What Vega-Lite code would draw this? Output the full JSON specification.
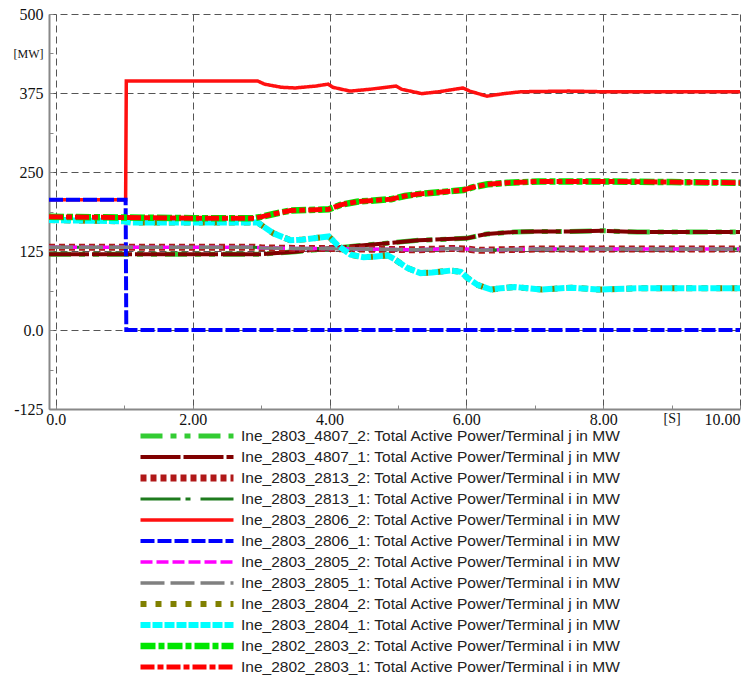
{
  "$schema": "https://vega.github.io/schema/vega-lite/v6.json",
  "width": 691,
  "height": 395,
  "autosize": {"type": "none"},
  "padding": {"left": 49, "top": 14, "right": 4, "bottom": 273},
  "background": "white",
  "config": {"view": {"stroke": null}, "font": "Liberation Sans"},
  "datasets": {
    "names": [
      {"s": "2803_4807_2", "name": "Ine_2803_4807_2: Total Active Power/Terminal j in MW"},
      {"s": "2803_4807_1", "name": "Ine_2803_4807_1: Total Active Power/Terminal j in MW"},
      {"s": "2803_2813_2", "name": "Ine_2803_2813_2: Total Active Power/Terminal i in MW"},
      {"s": "2803_2813_1", "name": "Ine_2803_2813_1: Total Active Power/Terminal i in MW"},
      {"s": "2803_2806_2", "name": "Ine_2803_2806_2: Total Active Power/Terminal i in MW"},
      {"s": "2803_2806_1", "name": "Ine_2803_2806_1: Total Active Power/Terminal i in MW"},
      {"s": "2803_2805_2", "name": "Ine_2803_2805_2: Total Active Power/Terminal i in MW"},
      {"s": "2803_2805_1", "name": "Ine_2803_2805_1: Total Active Power/Terminal i in MW"},
      {"s": "2803_2804_2", "name": "Ine_2803_2804_2: Total Active Power/Terminal j in MW"},
      {"s": "2803_2804_1", "name": "Ine_2803_2804_1: Total Active Power/Terminal j in MW"},
      {"s": "2802_2803_2", "name": "Ine_2802_2803_2: Total Active Power/Terminal i in MW"},
      {"s": "2802_2803_1", "name": "Ine_2802_2803_1: Total Active Power/Terminal i in MW"}
    ],
    "series": [
      {"s": "2803_4807_2", "t": -0.1, "v": 120}, {"s": "2803_4807_2", "t": 2.9, "v": 120}, {"s": "2803_4807_2", "t": 3.0, "v": 120}, {"s": "2803_4807_2", "t": 3.5, "v": 124}, {"s": "2803_4807_2", "t": 4.0, "v": 129}, {"s": "2803_4807_2", "t": 4.5, "v": 134}, {"s": "2803_4807_2", "t": 4.8, "v": 137}, {"s": "2803_4807_2", "t": 5.3, "v": 142}, {"s": "2803_4807_2", "t": 6.0, "v": 145}, {"s": "2803_4807_2", "t": 6.3, "v": 152}, {"s": "2803_4807_2", "t": 6.7, "v": 155}, {"s": "2803_4807_2", "t": 7.05, "v": 156}, {"s": "2803_4807_2", "t": 7.5, "v": 156}, {"s": "2803_4807_2", "t": 8.0, "v": 157}, {"s": "2803_4807_2", "t": 8.5, "v": 155}, {"s": "2803_4807_2", "t": 10, "v": 155},
      {"s": "2803_4807_1", "t": -0.1, "v": 120}, {"s": "2803_4807_1", "t": 2.9, "v": 120}, {"s": "2803_4807_1", "t": 3.0, "v": 120}, {"s": "2803_4807_1", "t": 3.5, "v": 124}, {"s": "2803_4807_1", "t": 4.0, "v": 129}, {"s": "2803_4807_1", "t": 4.5, "v": 134}, {"s": "2803_4807_1", "t": 4.8, "v": 137}, {"s": "2803_4807_1", "t": 5.3, "v": 142}, {"s": "2803_4807_1", "t": 6.0, "v": 145}, {"s": "2803_4807_1", "t": 6.3, "v": 152}, {"s": "2803_4807_1", "t": 6.7, "v": 155}, {"s": "2803_4807_1", "t": 7.05, "v": 156}, {"s": "2803_4807_1", "t": 7.5, "v": 156}, {"s": "2803_4807_1", "t": 8.0, "v": 157}, {"s": "2803_4807_1", "t": 8.5, "v": 155}, {"s": "2803_4807_1", "t": 10, "v": 155},
      {"s": "2803_2813_2", "t": -0.1, "v": 131}, {"s": "2803_2813_2", "t": 2.9, "v": 131}, {"s": "2803_2813_2", "t": 3.0, "v": 130}, {"s": "2803_2813_2", "t": 3.5, "v": 129}, {"s": "2803_2813_2", "t": 4.0, "v": 129}, {"s": "2803_2813_2", "t": 4.5, "v": 128}, {"s": "2803_2813_2", "t": 5.3, "v": 127}, {"s": "2803_2813_2", "t": 5.8, "v": 129}, {"s": "2803_2813_2", "t": 6.0, "v": 128}, {"s": "2803_2813_2", "t": 6.2, "v": 126}, {"s": "2803_2813_2", "t": 6.5, "v": 127}, {"s": "2803_2813_2", "t": 7.0, "v": 128}, {"s": "2803_2813_2", "t": 10, "v": 128},
      {"s": "2803_2813_1", "t": -0.1, "v": 131}, {"s": "2803_2813_1", "t": 2.9, "v": 131}, {"s": "2803_2813_1", "t": 3.0, "v": 130}, {"s": "2803_2813_1", "t": 3.5, "v": 129}, {"s": "2803_2813_1", "t": 4.0, "v": 129}, {"s": "2803_2813_1", "t": 4.5, "v": 128}, {"s": "2803_2813_1", "t": 5.3, "v": 127}, {"s": "2803_2813_1", "t": 5.8, "v": 129}, {"s": "2803_2813_1", "t": 6.0, "v": 128}, {"s": "2803_2813_1", "t": 6.2, "v": 126}, {"s": "2803_2813_1", "t": 6.5, "v": 127}, {"s": "2803_2813_1", "t": 7.0, "v": 128}, {"s": "2803_2813_1", "t": 10, "v": 128},
      {"s": "2803_2806_2", "t": -0.1, "v": 206}, {"s": "2803_2806_2", "t": 1.02, "v": 206}, {"s": "2803_2806_2", "t": 1.03, "v": 394}, {"s": "2803_2806_2", "t": 2.95, "v": 394}, {"s": "2803_2806_2", "t": 3.05, "v": 389}, {"s": "2803_2806_2", "t": 3.3, "v": 384}, {"s": "2803_2806_2", "t": 3.5, "v": 383}, {"s": "2803_2806_2", "t": 3.8, "v": 386}, {"s": "2803_2806_2", "t": 3.98, "v": 389}, {"s": "2803_2806_2", "t": 4.05, "v": 384}, {"s": "2803_2806_2", "t": 4.3, "v": 378}, {"s": "2803_2806_2", "t": 4.6, "v": 381}, {"s": "2803_2806_2", "t": 4.97, "v": 386}, {"s": "2803_2806_2", "t": 5.05, "v": 381}, {"s": "2803_2806_2", "t": 5.35, "v": 374}, {"s": "2803_2806_2", "t": 5.6, "v": 377}, {"s": "2803_2806_2", "t": 5.95, "v": 383}, {"s": "2803_2806_2", "t": 6.05, "v": 378}, {"s": "2803_2806_2", "t": 6.3, "v": 370}, {"s": "2803_2806_2", "t": 6.55, "v": 374}, {"s": "2803_2806_2", "t": 6.8, "v": 377}, {"s": "2803_2806_2", "t": 7.5, "v": 378}, {"s": "2803_2806_2", "t": 8.0, "v": 377}, {"s": "2803_2806_2", "t": 10, "v": 377},
      {"s": "2803_2806_1", "t": -0.1, "v": 206}, {"s": "2803_2806_1", "t": 1.02, "v": 206}, {"s": "2803_2806_1", "t": 1.03, "v": 0}, {"s": "2803_2806_1", "t": 10, "v": 0},
      {"s": "2803_2805_2", "t": -0.1, "v": 131}, {"s": "2803_2805_2", "t": 2.9, "v": 131}, {"s": "2803_2805_2", "t": 3.0, "v": 130}, {"s": "2803_2805_2", "t": 3.5, "v": 129}, {"s": "2803_2805_2", "t": 4.0, "v": 129}, {"s": "2803_2805_2", "t": 4.5, "v": 128}, {"s": "2803_2805_2", "t": 5.3, "v": 127}, {"s": "2803_2805_2", "t": 5.8, "v": 129}, {"s": "2803_2805_2", "t": 6.0, "v": 128}, {"s": "2803_2805_2", "t": 6.2, "v": 126}, {"s": "2803_2805_2", "t": 6.5, "v": 127}, {"s": "2803_2805_2", "t": 7.0, "v": 128}, {"s": "2803_2805_2", "t": 10, "v": 128},
      {"s": "2803_2805_1", "t": -0.1, "v": 131}, {"s": "2803_2805_1", "t": 2.9, "v": 131}, {"s": "2803_2805_1", "t": 3.0, "v": 130}, {"s": "2803_2805_1", "t": 3.5, "v": 129}, {"s": "2803_2805_1", "t": 4.0, "v": 129}, {"s": "2803_2805_1", "t": 4.5, "v": 128}, {"s": "2803_2805_1", "t": 5.3, "v": 127}, {"s": "2803_2805_1", "t": 5.8, "v": 129}, {"s": "2803_2805_1", "t": 6.0, "v": 128}, {"s": "2803_2805_1", "t": 6.2, "v": 126}, {"s": "2803_2805_1", "t": 6.5, "v": 127}, {"s": "2803_2805_1", "t": 7.0, "v": 128}, {"s": "2803_2805_1", "t": 10, "v": 128},
      {"s": "2803_2804_2", "t": -0.1, "v": 174}, {"s": "2803_2804_2", "t": 1.0, "v": 172}, {"s": "2803_2804_2", "t": 1.1, "v": 170}, {"s": "2803_2804_2", "t": 2.95, "v": 170}, {"s": "2803_2804_2", "t": 3.18, "v": 153}, {"s": "2803_2804_2", "t": 3.43, "v": 142}, {"s": "2803_2804_2", "t": 3.6, "v": 143}, {"s": "2803_2804_2", "t": 3.83, "v": 146}, {"s": "2803_2804_2", "t": 3.99, "v": 148}, {"s": "2803_2804_2", "t": 4.12, "v": 134}, {"s": "2803_2804_2", "t": 4.31, "v": 119}, {"s": "2803_2804_2", "t": 4.5, "v": 115}, {"s": "2803_2804_2", "t": 4.65, "v": 116}, {"s": "2803_2804_2", "t": 4.85, "v": 118}, {"s": "2803_2804_2", "t": 4.95, "v": 112}, {"s": "2803_2804_2", "t": 5.14, "v": 98}, {"s": "2803_2804_2", "t": 5.33, "v": 90}, {"s": "2803_2804_2", "t": 5.5, "v": 91}, {"s": "2803_2804_2", "t": 5.77, "v": 94}, {"s": "2803_2804_2", "t": 5.92, "v": 92}, {"s": "2803_2804_2", "t": 6.02, "v": 82}, {"s": "2803_2804_2", "t": 6.17, "v": 71}, {"s": "2803_2804_2", "t": 6.36, "v": 64}, {"s": "2803_2804_2", "t": 6.5, "v": 66}, {"s": "2803_2804_2", "t": 6.71, "v": 68}, {"s": "2803_2804_2", "t": 6.9, "v": 66}, {"s": "2803_2804_2", "t": 7.1, "v": 64}, {"s": "2803_2804_2", "t": 7.54, "v": 67}, {"s": "2803_2804_2", "t": 7.93, "v": 64}, {"s": "2803_2804_2", "t": 8.5, "v": 66}, {"s": "2803_2804_2", "t": 10, "v": 66},
      {"s": "2803_2804_1", "t": -0.1, "v": 174}, {"s": "2803_2804_1", "t": 1.0, "v": 172}, {"s": "2803_2804_1", "t": 1.1, "v": 170}, {"s": "2803_2804_1", "t": 2.95, "v": 170}, {"s": "2803_2804_1", "t": 3.18, "v": 153}, {"s": "2803_2804_1", "t": 3.43, "v": 142}, {"s": "2803_2804_1", "t": 3.6, "v": 143}, {"s": "2803_2804_1", "t": 3.83, "v": 146}, {"s": "2803_2804_1", "t": 3.99, "v": 148}, {"s": "2803_2804_1", "t": 4.12, "v": 134}, {"s": "2803_2804_1", "t": 4.31, "v": 119}, {"s": "2803_2804_1", "t": 4.5, "v": 115}, {"s": "2803_2804_1", "t": 4.65, "v": 116}, {"s": "2803_2804_1", "t": 4.85, "v": 118}, {"s": "2803_2804_1", "t": 4.95, "v": 112}, {"s": "2803_2804_1", "t": 5.14, "v": 98}, {"s": "2803_2804_1", "t": 5.33, "v": 90}, {"s": "2803_2804_1", "t": 5.5, "v": 91}, {"s": "2803_2804_1", "t": 5.77, "v": 94}, {"s": "2803_2804_1", "t": 5.92, "v": 92}, {"s": "2803_2804_1", "t": 6.02, "v": 82}, {"s": "2803_2804_1", "t": 6.17, "v": 71}, {"s": "2803_2804_1", "t": 6.36, "v": 64}, {"s": "2803_2804_1", "t": 6.5, "v": 66}, {"s": "2803_2804_1", "t": 6.71, "v": 68}, {"s": "2803_2804_1", "t": 6.9, "v": 66}, {"s": "2803_2804_1", "t": 7.1, "v": 64}, {"s": "2803_2804_1", "t": 7.54, "v": 67}, {"s": "2803_2804_1", "t": 7.93, "v": 64}, {"s": "2803_2804_1", "t": 8.5, "v": 66}, {"s": "2803_2804_1", "t": 10, "v": 66},
      {"s": "2802_2803_2", "t": -0.1, "v": 179}, {"s": "2802_2803_2", "t": 1.0, "v": 178}, {"s": "2802_2803_2", "t": 2.0, "v": 177}, {"s": "2802_2803_2", "t": 2.9, "v": 177}, {"s": "2802_2803_2", "t": 3.0, "v": 179}, {"s": "2802_2803_2", "t": 3.2, "v": 184}, {"s": "2802_2803_2", "t": 3.43, "v": 189}, {"s": "2802_2803_2", "t": 3.7, "v": 190}, {"s": "2802_2803_2", "t": 3.99, "v": 191}, {"s": "2802_2803_2", "t": 4.16, "v": 198}, {"s": "2802_2803_2", "t": 4.4, "v": 203}, {"s": "2802_2803_2", "t": 4.65, "v": 205}, {"s": "2802_2803_2", "t": 4.9, "v": 207}, {"s": "2802_2803_2", "t": 5.1, "v": 212}, {"s": "2802_2803_2", "t": 5.29, "v": 215}, {"s": "2802_2803_2", "t": 5.6, "v": 218}, {"s": "2802_2803_2", "t": 5.96, "v": 221.5}, {"s": "2802_2803_2", "t": 6.1, "v": 226}, {"s": "2802_2803_2", "t": 6.31, "v": 230.5}, {"s": "2802_2803_2", "t": 6.6, "v": 233}, {"s": "2802_2803_2", "t": 7.05, "v": 235}, {"s": "2802_2803_2", "t": 8.0, "v": 235}, {"s": "2802_2803_2", "t": 9.0, "v": 234}, {"s": "2802_2803_2", "t": 10, "v": 233},
      {"s": "2802_2803_1", "t": -0.1, "v": 179}, {"s": "2802_2803_1", "t": 1.0, "v": 178}, {"s": "2802_2803_1", "t": 2.0, "v": 177}, {"s": "2802_2803_1", "t": 2.9, "v": 177}, {"s": "2802_2803_1", "t": 3.0, "v": 179}, {"s": "2802_2803_1", "t": 3.2, "v": 184}, {"s": "2802_2803_1", "t": 3.43, "v": 189}, {"s": "2802_2803_1", "t": 3.7, "v": 190}, {"s": "2802_2803_1", "t": 3.99, "v": 191}, {"s": "2802_2803_1", "t": 4.16, "v": 198}, {"s": "2802_2803_1", "t": 4.4, "v": 203}, {"s": "2802_2803_1", "t": 4.65, "v": 205}, {"s": "2802_2803_1", "t": 4.9, "v": 207}, {"s": "2802_2803_1", "t": 5.1, "v": 212}, {"s": "2802_2803_1", "t": 5.29, "v": 215}, {"s": "2802_2803_1", "t": 5.6, "v": 218}, {"s": "2802_2803_1", "t": 5.96, "v": 221.5}, {"s": "2802_2803_1", "t": 6.1, "v": 226}, {"s": "2802_2803_1", "t": 6.31, "v": 230.5}, {"s": "2802_2803_1", "t": 6.6, "v": 233}, {"s": "2802_2803_1", "t": 7.05, "v": 235}, {"s": "2802_2803_1", "t": 8.0, "v": 235}, {"s": "2802_2803_1", "t": 9.0, "v": 234}, {"s": "2802_2803_1", "t": 10, "v": 233}
    ]
  },
  "data": {"name": "series"},
  "transform": [
    {"lookup": "s", "from": {"data": {"name": "names"}, "key": "s", "fields": ["name"]}}
  ],
  "mark": {"type": "line", "strokeCap": "butt", "strokeJoin": "miter", "clip": true},
  "encoding": {
    "x": {
      "field": "t", "type": "quantitative",
      "scale": {"domain": [-0.1, 10], "nice": false, "zero": false},
      "axis": {
        "title": null,
        "values": [0, 1, 2, 3, 4, 5, 6, 7, 8, 9, 10],
        "labelExpr": "datum.value == 9 ? '[S]' : (datum.value % 2 == 0 ? (datum.value == 0 ? '0.0' : format(datum.value, '.2f')) : '')",
        "labelFont": "Liberation Serif",
        "labelFontSize": {"condition": {"test": "datum.value == 9", "value": 14}, "value": 16},
        "labelColor": "#111111",
        "labelOverlap": false,
        "labelFlush": true,
        "labelPadding": 6,
        "grid": true,
        "gridDash": [7, 4],
        "gridColor": "#555555",
        "gridWidth": 1,
        "gridOpacity": {"condition": {"test": "datum.value % 2 != 0", "value": 0}, "value": 1},
        "domainColor": "#888888",
        "domainWidth": 2,
        "tickColor": "#888888",
        "tickSize": -4,
        "tickWidth": 1
      }
    },
    "y": {
      "field": "v", "type": "quantitative",
      "scale": {"domain": [-125, 500], "nice": false, "zero": false},
      "axis": {
        "title": null,
        "values": [-125, -62.5, 0, 62.5, 125, 187.5, 250, 312.5, 375, 437.5, 500],
        "labelExpr": "datum.value == 437.5 ? '[MW]' : (datum.value % 125 == 0 ? (datum.value == 0 ? '0.0' : datum.value + '') : '')",
        "labelFont": "Liberation Serif",
        "labelFontSize": {"condition": {"test": "datum.value == 437.5", "value": 12}, "value": 16},
        "labelColor": "#111111",
        "labelOverlap": false,
        "labelFlush": false,
        "labelPadding": 10,
        "grid": true,
        "gridDash": [7, 4],
        "gridColor": "#555555",
        "gridWidth": 1,
        "gridOpacity": {"condition": {"test": "datum.value % 125 != 0", "value": 0}, "value": 1},
        "domainColor": "#888888",
        "domainWidth": 2,
        "tickColor": "#888888",
        "tickSize": -4,
        "tickWidth": 1
      }
    },
    "color": {
      "field": "name", "type": "nominal",
      "scale": {
        "domain": [
          "Ine_2803_4807_2: Total Active Power/Terminal j in MW",
          "Ine_2803_4807_1: Total Active Power/Terminal j in MW",
          "Ine_2803_2813_2: Total Active Power/Terminal i in MW",
          "Ine_2803_2813_1: Total Active Power/Terminal i in MW",
          "Ine_2803_2806_2: Total Active Power/Terminal i in MW",
          "Ine_2803_2806_1: Total Active Power/Terminal i in MW",
          "Ine_2803_2805_2: Total Active Power/Terminal i in MW",
          "Ine_2803_2805_1: Total Active Power/Terminal i in MW",
          "Ine_2803_2804_2: Total Active Power/Terminal j in MW",
          "Ine_2803_2804_1: Total Active Power/Terminal j in MW",
          "Ine_2802_2803_2: Total Active Power/Terminal i in MW",
          "Ine_2802_2803_1: Total Active Power/Terminal i in MW"
        ],
        "range": ["#33CC33", "#800000", "#B01818", "#1E7B1E", "#FF1010", "#0000FF", "#FF00FF", "#808080", "#808000", "#00FFFF", "#00E600", "#FF0000"]
      },
      "legend": {
        "orient": "none",
        "legendX": 88,
        "legendY": 411.5,
        "title": null,
        "direction": "vertical",
        "symbolType": "stroke",
        "symbolSize": 8649,
        "clipHeight": 21,
        "rowPadding": 0,
        "padding": 0,
        "labelFont": "Liberation Sans",
        "labelFontSize": 15.5,
        "labelColor": "#222222",
        "labelLimit": 0,
        "labelOffset": 4
      }
    },
    "strokeDash": {
      "field": "name", "type": "nominal",
      "scale": {
        "domain": [
          "Ine_2803_4807_2: Total Active Power/Terminal j in MW",
          "Ine_2803_4807_1: Total Active Power/Terminal j in MW",
          "Ine_2803_2813_2: Total Active Power/Terminal i in MW",
          "Ine_2803_2813_1: Total Active Power/Terminal i in MW",
          "Ine_2803_2806_2: Total Active Power/Terminal i in MW",
          "Ine_2803_2806_1: Total Active Power/Terminal i in MW",
          "Ine_2803_2805_2: Total Active Power/Terminal i in MW",
          "Ine_2803_2805_1: Total Active Power/Terminal i in MW",
          "Ine_2803_2804_2: Total Active Power/Terminal j in MW",
          "Ine_2803_2804_1: Total Active Power/Terminal j in MW",
          "Ine_2802_2803_2: Total Active Power/Terminal i in MW",
          "Ine_2802_2803_1: Total Active Power/Terminal i in MW"
        ],
        "range": [[22, 8, 6, 8, 6, 8], [40, 3], [6, 4], [40, 5, 5, 10], [1, 0], [14, 3], [12, 4], [24, 6], [6, 9], [10, 2], [15, 3, 6, 3], [14, 3, 6, 3]]
      }
    },
    "strokeWidth": {
      "field": "name", "type": "nominal",
      "scale": {
        "type": "ordinal",
        "domain": [
          "Ine_2803_4807_2: Total Active Power/Terminal j in MW",
          "Ine_2803_4807_1: Total Active Power/Terminal j in MW",
          "Ine_2803_2813_2: Total Active Power/Terminal i in MW",
          "Ine_2803_2813_1: Total Active Power/Terminal i in MW",
          "Ine_2803_2806_2: Total Active Power/Terminal i in MW",
          "Ine_2803_2806_1: Total Active Power/Terminal i in MW",
          "Ine_2803_2805_2: Total Active Power/Terminal i in MW",
          "Ine_2803_2805_1: Total Active Power/Terminal i in MW",
          "Ine_2803_2804_2: Total Active Power/Terminal j in MW",
          "Ine_2803_2804_1: Total Active Power/Terminal j in MW",
          "Ine_2802_2803_2: Total Active Power/Terminal i in MW",
          "Ine_2802_2803_1: Total Active Power/Terminal i in MW"
        ],
        "range": [5, 4, 7, 3, 3.5, 4, 3.5, 3.5, 6, 6, 6.5, 5]
      }
    }
  }
}
